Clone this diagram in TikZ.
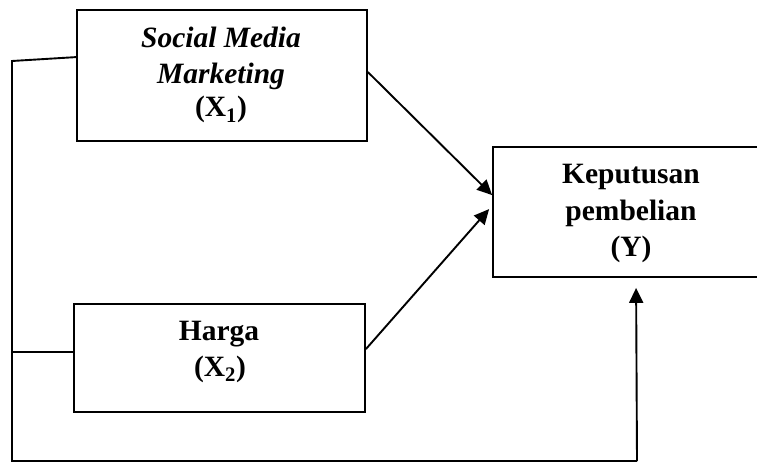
\documentclass[tikz,border=0pt]{standalone}
\usepackage{fontspec}
\setmainfont{Liberation Serif}
\usetikzlibrary{arrows.meta}
\begin{document}
\begin{tikzpicture}[x=1pt,y=-1pt,
  box/.style={draw,line width=1.8pt,rectangle,inner sep=0pt},
  txt/.style={anchor=base,inner sep=0pt,font=\fontsize{29.5}{34}\selectfont\bfseries},
  wire/.style={line width=1.9pt},
  arr/.style={line width=1.9pt,-{Triangle[length=15pt,width=14pt]}}]
\useasboundingbox (0,0) rectangle (757,462);
\clip (0,0) rectangle (757,462);
\fill[white] (0,0) rectangle (757,462);
% boxes
\node[box,minimum width=290pt,minimum height=131pt] (X1) at (222,75.5) {};
\node[box,minimum width=291pt,minimum height=108pt] (X2) at (219.5,358) {};
\node[box,minimum width=277pt,minimum height=130pt] (Y) at (631.5,212) {};
% texts
\node[txt] (t11) at (221,47.3) {\itshape Social Media};
\node[txt] (t12) at (221,83.3) {\itshape Marketing};
\node[txt] (t13) at (221,117) {(X\textsubscript{1})};
\node[txt] (t21) at (219,340.7) {Harga};
\node[txt] (t22) at (220,376.7) {(X\textsubscript{2})};
\node[txt] (t31) at (631,184) {Keputusan};
\node[txt] (t32) at (631,220.5) {pembelian};
\node[txt] (t33) at (631,256) {(Y)};
% coordinates
\coordinate (k1) at (12,61);
\coordinate (k2) at (12,461);
\coordinate (k3) at (637,461);
\coordinate (x2w) at ([yshift=-49pt]X2.north west);
% connectors
\draw[wire] ([yshift=-48pt]X1.north west) -- (k1) -- (k2) -- (k3);
\draw[wire] (x2w) -- (k1 |- x2w);
\draw[arr] (k3) -- ([xshift=144pt,yshift=-10pt]Y.south west);
\draw[arr] ([yshift=-63pt]X1.north east) -- ([yshift=-49pt]Y.north west);
\draw[arr] ([yshift=-46pt]X2.north east) -- ([xshift=-3pt,yshift=-63pt]Y.north west);
\end{tikzpicture}
\end{document}
